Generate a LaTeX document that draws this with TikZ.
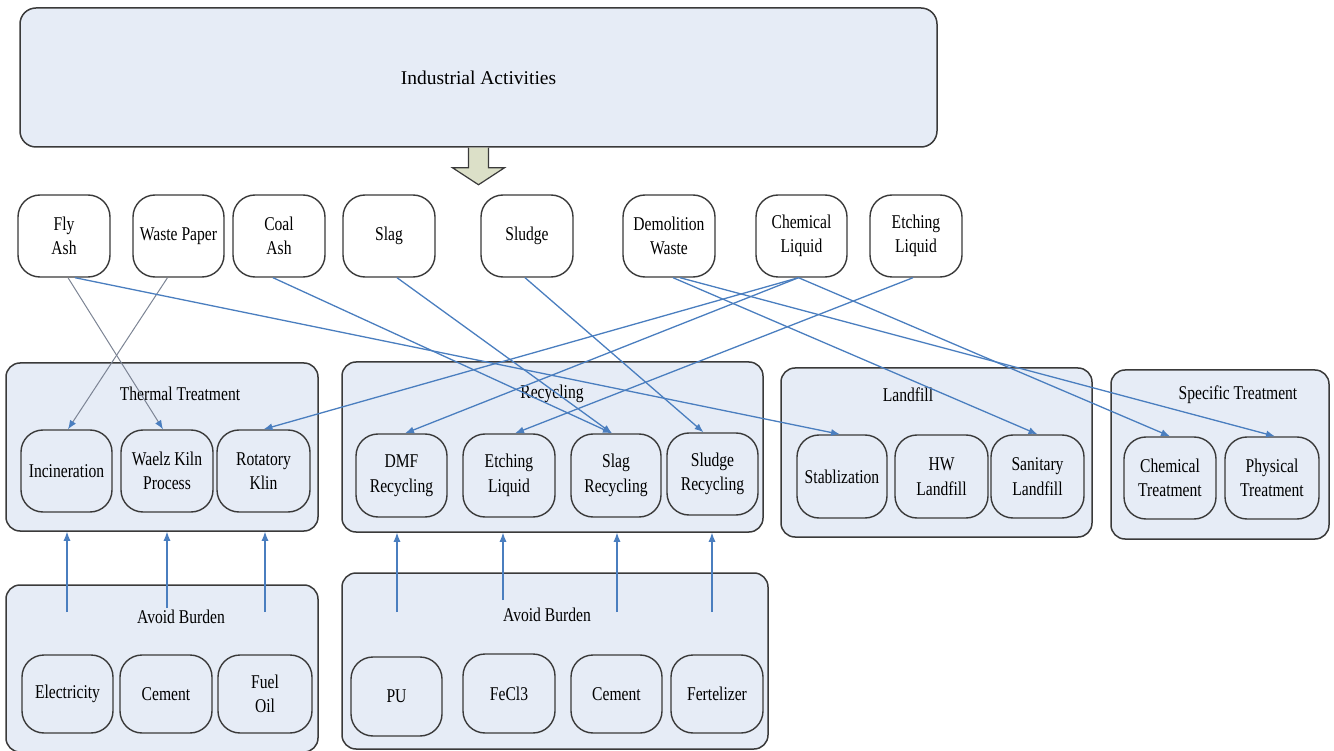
\documentclass[tikz,border=0pt]{standalone}
\usepackage{fontspec}
\setmainfont{Liberation Serif}
\newfontfamily\condserif{Liberation Serif}[FakeStretch=0.8]
\newcommand\myNodeFont{\condserif\fontsize{19.5}{24.5}\selectfont}
\newcommand\myTopFont{\fontsize{19.5}{24}\selectfont}
\usetikzlibrary{arrows.meta,calc}
\definecolor{boxfill}{HTML}{E6ECF6}
\definecolor{bordercol}{HTML}{3A3A3A}
\definecolor{linecol}{HTML}{4A7EBF}
\definecolor{graycol}{HTML}{7C8494}
\definecolor{arrfill}{HTML}{DCE0C8}
\tikzset{
  grp/.style={draw=bordercol, line width=1.5pt, fill=boxfill, rounded corners=14pt, inner sep=0pt},
  item/.style={draw=bordercol, line width=1.4pt, fill=boxfill, rounded corners=22pt, align=center, inner sep=0pt, font=\myNodeFont},
  waste/.style={item, fill=white, minimum width=92pt, minimum height=82pt},
  ttl/.style={font=\myNodeFont, inner sep=0pt},
  arr/.style={draw=linecol, line width=1.3pt, -{Latex[length=9pt,width=7pt]}},
  garr/.style={draw=graycol, line width=1pt, -{Latex[length=9pt,width=7pt,color=linecol]}},
  bigarr/.style={draw=bordercol, line width=1.2pt, fill=arrfill, line join=miter},
}
\begin{document}
\begin{tikzpicture}[x=1pt,y=-1pt]
\useasboundingbox (0,0) rectangle (1334,751);

% top block
\node[grp, rounded corners=16pt, minimum width=917pt, minimum height=139pt, font=\myTopFont] (top) at (478.5,77.5) {Industrial Activities};
\draw[bigarr] ([xshift=-10pt]top.south) -- ++(0,20) -- ++(-16,0) -- ++(26,17) -- ++(26,-17) -- ++(-16,0) -- ++(0,-20);

% waste row
\node[waste] (flyash) at (64,236) {Fly\\Ash};
\node[waste, minimum width=91pt] (wastepaper) at (178.5,236) {Waste Paper};
\node[waste] (coalash) at (279,236) {Coal\\Ash};
\node[waste] (slag) at (389,236) {Slag};
\node[waste] (sludge) at (527,236) {Sludge};
\node[waste] (demolition) at (669,236) {Demolition\\Waste};
\node[waste, minimum width=91pt] (chemliq) at (801.5,236) {Chemical\\Liquid};
\node[waste] (etchliq) at (916,236) {Etching\\Liquid};

% thermal treatment
\node[grp, minimum width=312pt, minimum height=168pt] (thermal) at (162,447) {};
\node[ttl] (thermalT) at (180,394) {Thermal Treatment};
\node[item, minimum width=91pt, minimum height=82pt] (incin) at (66.5,471) {Incineration};
\node[item, minimum width=92pt, minimum height=82pt] (waelz) at (167,471) {Waelz Kiln\\Process};
\node[item, minimum width=93pt, minimum height=82pt] (rotatory) at (263.5,471) {Rotatory\\Klin};

% recycling
\node[grp, minimum width=421pt, minimum height=170pt] (recycling) at (552.5,447) {};
\node[ttl] (recyclingT) at (552,394) {Recycling};
\node[item, minimum width=91pt, minimum height=83pt] (dmf) at (401.5,475.5) {DMF\\Recycling};
\node[item, minimum width=92pt, minimum height=83pt] (etchrec) at (509,475.5) {Etching\\Liquid};
\node[item, minimum width=90pt, minimum height=83pt] (slagrec) at (616,475.5) {Slag\\Recycling};
\node[item, minimum width=91pt, minimum height=82pt] (sludgerec) at (712.5,474) {Sludge\\Recycling};

% landfill
\node[grp, minimum width=311pt, minimum height=169pt] (landfill) at (936.5,452.5) {};
\node[ttl] (landfillT) at (908,395) {Landfill};
\node[item, minimum width=90pt, minimum height=83pt] (stab) at (842,476.5) {Stablization};
\node[item, minimum width=93pt, minimum height=83pt] (hw) at (941.5,476.5) {HW\\Landfill};
\node[item, minimum width=93pt, minimum height=83pt] (sanitary) at (1037.5,476.5) {Sanitary\\Landfill};

% specific treatment
\node[grp, minimum width=218pt, minimum height=169pt] (specific) at (1220,454.5) {};
\node[ttl] (specificT) at (1238,395) {Specific Treatment};
\node[item, minimum width=92pt, minimum height=82pt] (chemtr) at (1170,478) {Chemical\\Treatment};
\node[item, minimum width=94pt, minimum height=82pt] (phystr) at (1272,478) {Physical\\Treatment};

% avoid burden left
\node[grp, minimum width=312pt, minimum height=167pt] (avoidL) at (162,668.5) {};
\node[ttl] (avoidLT) at (181,617) {Avoid Burden};
\node[item, minimum width=91pt, minimum height=78pt] (elec) at (67.5,694) {Electricity};
\node[item, minimum width=92pt, minimum height=78pt] (cementA) at (166,694) {Cement};
\node[item, minimum width=94pt, minimum height=78pt] (fueloil) at (265,694) {Fuel\\Oil};

% avoid burden right
\node[grp, minimum width=426pt, minimum height=176pt] (avoidR) at (555,661) {};
\node[ttl] (avoidRT) at (547,615) {Avoid Burden};
\node[item, minimum width=91pt, minimum height=79pt] (pu) at (396.5,696.5) {PU};
\node[item, minimum width=92pt, minimum height=79pt] (fecl) at (509,693.5) {FeCl3};
\node[item, minimum width=91pt, minimum height=78pt] (cementB) at (616.5,694) {Cement};
\node[item, minimum width=92pt, minimum height=78pt] (fert) at (717,694) {Fertelizer};

% connectors waste -> treatment
\draw[garr] ([xshift=4pt]flyash.south) -- ([xshift=-4pt]waelz.north);
\draw[garr] ([xshift=-11pt]wastepaper.south) -- ([xshift=1.5pt]incin.north);
\draw[arr] ([xshift=11pt]flyash.south) -- ([xshift=-2pt]stab.north);
\draw[arr] ([xshift=-6pt]coalash.south) -- ([xshift=-4pt]slagrec.north);
\draw[arr] ([xshift=8pt]slag.south) -- ([xshift=-4pt]slagrec.north);
\draw[arr] ([xshift=-2pt]sludge.south) -- ([xshift=-9pt]sludgerec.north);
\draw[arr] ([xshift=4pt]demolition.south) -- (sanitary.north);
\draw[arr] ([xshift=11pt]demolition.south) -- ([xshift=3pt]phystr.north);
\draw[arr] ([xshift=-3pt]chemliq.south) -- (rotatory.north);
\draw[arr] ([xshift=-3pt]chemliq.south) -- ([xshift=3.5pt]dmf.north);
\draw[arr] ([xshift=-3pt]chemliq.south) -- (chemtr.north);
\draw[arr] ([xshift=-3pt]etchliq.south) -- ([xshift=6pt]etchrec.north);

% avoided burden arrows
\coordinate (ua1) at (67,612);
\coordinate (ua2) at (167,608);
\coordinate (ua3) at (265,612);
\coordinate (ub1) at (397,612);
\coordinate (ub2) at (503,600);
\coordinate (ub3) at (617,612);
\coordinate (ub4) at (712,612);
\foreach \c in {ua1,ua2,ua3}{\draw[arr, line width=1.1pt] (\c) -- (\c |- thermal.south);}
\foreach \c in {ub1,ub2,ub3,ub4}{\draw[arr, line width=1.1pt] (\c) -- (\c |- recycling.south);}
\end{tikzpicture}
\end{document}
